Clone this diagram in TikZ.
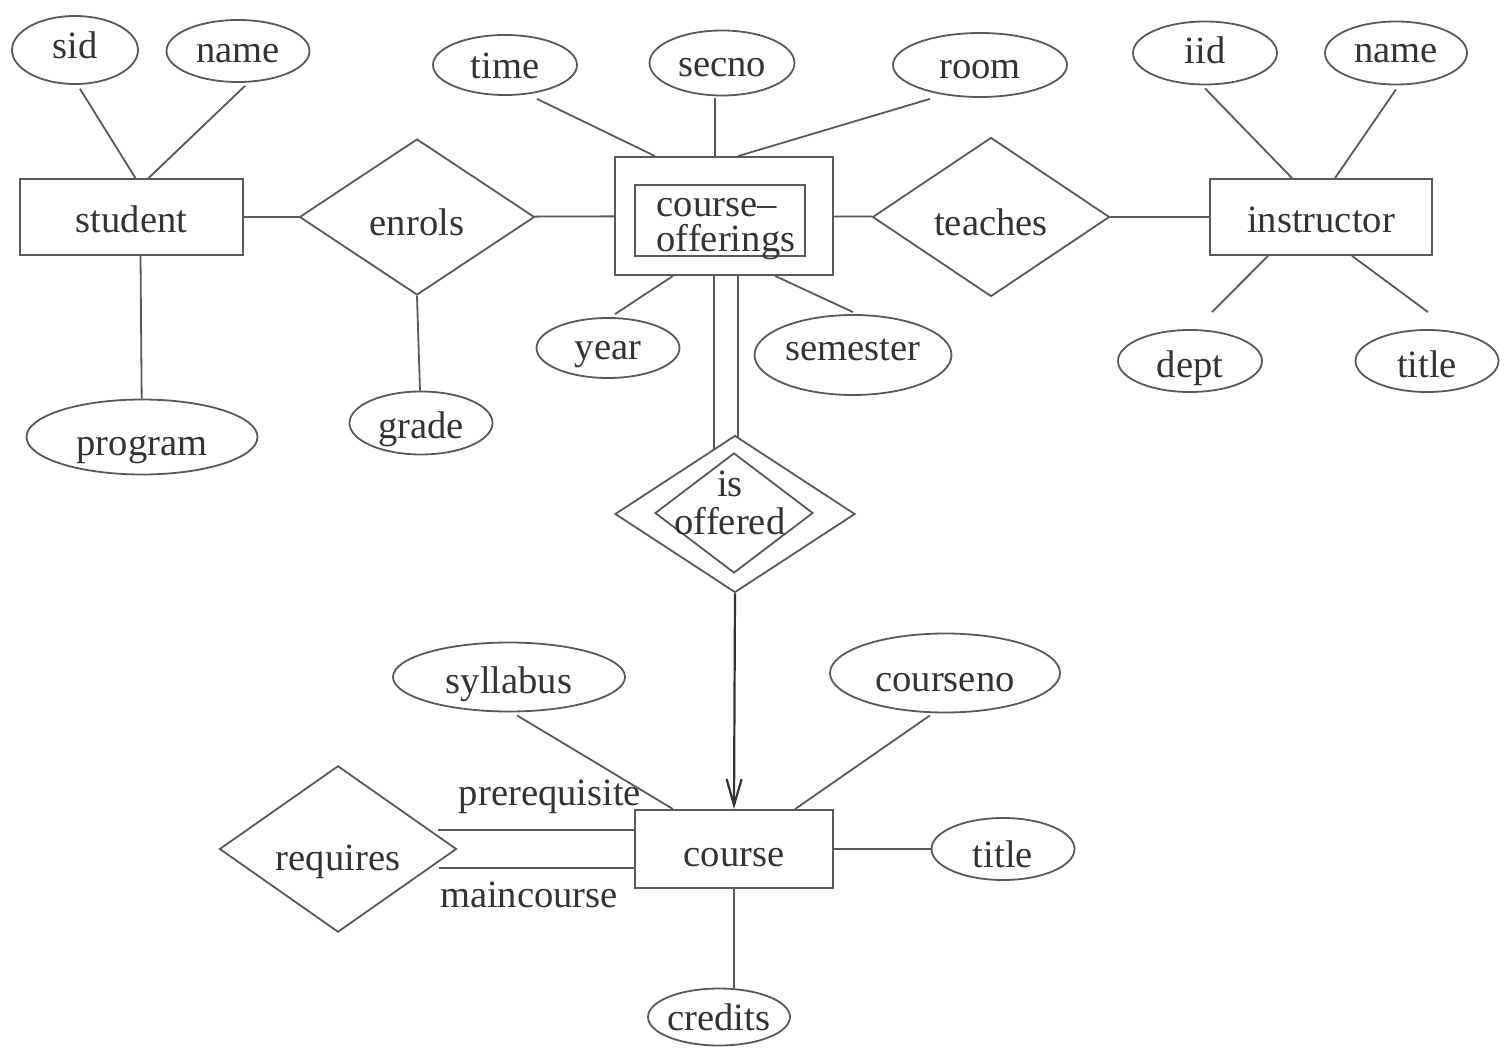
\documentclass[tikz,border=0pt]{standalone}
\usepackage{fontspec}
\setmainfont{Liberation Serif}
\usetikzlibrary{shapes.geometric,arrows.meta,calc}
\begin{document}
\begin{tikzpicture}[x=0.5pt,y=-0.5pt,
  every node/.style={font=\fontsize{19.3}{18}\selectfont, text=black!80},
  lin/.style={draw=black!65, line width=0.9pt},
  ent/.style={lin, rectangle, inner sep=0pt, text height=15.5pt, text depth=0pt},
  attr/.style={lin, ellipse, inner sep=0pt, text height=14pt, text depth=0pt},
  rel/.style={lin, diamond, inner sep=0pt, text height=19pt, text depth=0pt},
  conn/.style={draw=black!65, line width=0.9pt},
]
\useasboundingbox (0,0) rectangle (1510,1048);

% entities
\node[ent, minimum width=111.5pt, minimum height=38pt] (student) at (131.5,217) {student};
\node[ent, minimum width=109pt, minimum height=59pt] (co) at (724,216) {};
\node[ent, minimum width=85pt, minimum height=35.5pt] (coin) at (720,220.5) {};
\node[align=left, inner sep=0pt, font=\fontsize{19.3}{17.5}\selectfont] (cotext) at (726,229) {course–\\offerings};
\node[ent, minimum width=111pt, minimum height=38pt] (instructor) at (1321,217) {instructor};
\node[ent, minimum width=99pt, minimum height=39pt, text height=17.5pt] (course) at (734,849) {course};

% relationships
\node[rel, minimum width=117.5pt, minimum height=78pt] (enrols) at (417,217) {enrols};
\node[rel, minimum width=118.5pt, minimum height=79.5pt] (teaches) at (991,217) {teaches};
\node[rel, minimum width=120pt, minimum height=78.5pt] (isoff) at (735,514) {};
\node[rel, minimum width=79pt, minimum height=60pt] (isoffin) at (734,513) {};
\node[align=center, inner sep=0pt, font=\fontsize{19.3}{19}\selectfont] (isofftext) at (730,503) {is\\offered};
\node[rel, minimum width=118.5pt, minimum height=79pt, text height=21pt] (requires) at (338,849) {requires};

% attributes
\node[attr, minimum width=63pt, minimum height=34pt, text height=9pt] (sid) at (75,50) {sid};
\node[attr, minimum width=71.5pt, minimum height=31pt, text height=12pt] (sname) at (238,51) {name};
\node[attr, minimum width=115.5pt, minimum height=37.5pt, text height=18pt] (program) at (142,437) {program};
\node[attr, minimum width=71.5pt, minimum height=31.5pt, text height=15pt] (grade) at (421,423) {grade};
\node[attr, minimum width=72pt, minimum height=30pt] (time) at (505,65) {time};
\node[attr, minimum width=72.5pt, minimum height=32.5pt] (secno) at (722,63) {secno};
\node[attr, minimum width=87pt, minimum height=32pt] (room) at (980,65) {room};
\node[attr, minimum width=71.5pt, minimum height=30pt, text height=11pt] (year) at (608,348) {year};
\node[attr, minimum width=98.5pt, minimum height=40pt, text height=5pt] (semester) at (853,355) {semester};
\node[attr, minimum width=72pt, minimum height=31.5pt, text height=11pt] (iid) at (1205,53) {iid};
\node[attr, minimum width=71pt, minimum height=31.5pt, text height=10pt] (iname) at (1396,53) {name};
\node[attr, minimum width=72pt, minimum height=31pt, text height=16pt] (dept) at (1190,361) {dept};
\node[attr, minimum width=71.5pt, minimum height=31pt, text height=16pt] (ititle) at (1427,361) {title};
\node[attr, minimum width=116pt, minimum height=34.5pt, text height=16pt] (syllabus) at (509,677) {syllabus};
\node[attr, minimum width=115pt, minimum height=39.5pt, text height=18pt] (courseno) at (945,673) {courseno};
\node[attr, minimum width=71.5pt, minimum height=31pt, text height=18pt] (ctitle) at (1003,849) {title};
\node[attr, minimum width=71pt, minimum height=28.5pt, inner xsep=-3pt, text height=13pt] (credits) at (719,1017) {credits};

% role labels
\node (prereq) at (550,797) {prerequisite};
\node (maincourse) at (529,895) {maincourse};

% connectors: student
\draw[conn] ([xshift=2.5pt,yshift=-2pt]sid.south) -- ([xshift=2pt]student.north);
\draw[conn] ([xshift=3.5pt,yshift=-1.5pt]sname.south) -- ([xshift=8.5pt]student.north);
\draw[conn] ([xshift=4.5pt]student.south) -- (program);
\draw[conn] (student) -- (enrols);
\draw[conn] (enrols) -- (co);
\draw[conn] (enrols.south) -- (grade);

% course-offerings
\draw[conn] ([xshift=16pt,yshift=-1.5pt]time.south) -- ([xshift=-34.5pt]co.north);
\draw[conn] ([xshift=-3.5pt,yshift=-1pt]secno.south) -- ([xshift=-4.5pt]co.north);
\draw[conn] ([xshift=-25pt,yshift=-0.5pt]room.south) -- ([xshift=7pt]co.north);
\draw[conn] ([xshift=3.5pt,yshift=1.5pt]year.north) -- ([xshift=-25.5pt]co.south);
\draw[conn] ([yshift=1pt]semester.north) -- ([xshift=25.5pt]co.south);
\draw[conn] (co) -- (teaches);
\draw[conn] (teaches) -- (instructor);
\draw[conn] ([xshift=-5pt]co.south) -- ($(isoff.north)+(-21,14)$);
\draw[conn] ([xshift=7pt]co.south) -- ($(isoff.north)+(3,2)$);

% instructor
\draw[conn] ([yshift=-1.5pt]iid.south) -- ([xshift=-14.5pt]instructor.north);
\draw[conn] ([yshift=-2pt]iname.south) -- ([xshift=7pt]instructor.north);
\draw[conn] ([xshift=-26.5pt]instructor.south) -- ($(dept.north)+(22,-17)$);
\draw[conn] ([xshift=15.5pt]instructor.south) -- ($(ititle.north)+(1,-17)$);

% course
\draw[conn, line width=1.1pt, draw=black!80, -{Straight Barb[length=13pt, width=7.5pt]}] (isoff.south) -- (course.north);
\draw[conn] ([xshift=4pt,yshift=-1.5pt]syllabus.south) -- ([xshift=-30.5pt]course.north);
\draw[conn] ([xshift=-7.5pt,yshift=-1pt]courseno.south) -- ([xshift=30.5pt]course.north);
\draw[conn] (course) -- (ctitle);
\draw[conn] (course.south) -- (course.south |- credits.north);
\draw[conn] ($(requires.east)+(-19,-19)$) -- ([yshift=9.5pt]course.west);
\draw[conn] ($(requires.east)+(-18,19)$) -- ([yshift=-9.5pt]course.west);
\end{tikzpicture}
\end{document}
